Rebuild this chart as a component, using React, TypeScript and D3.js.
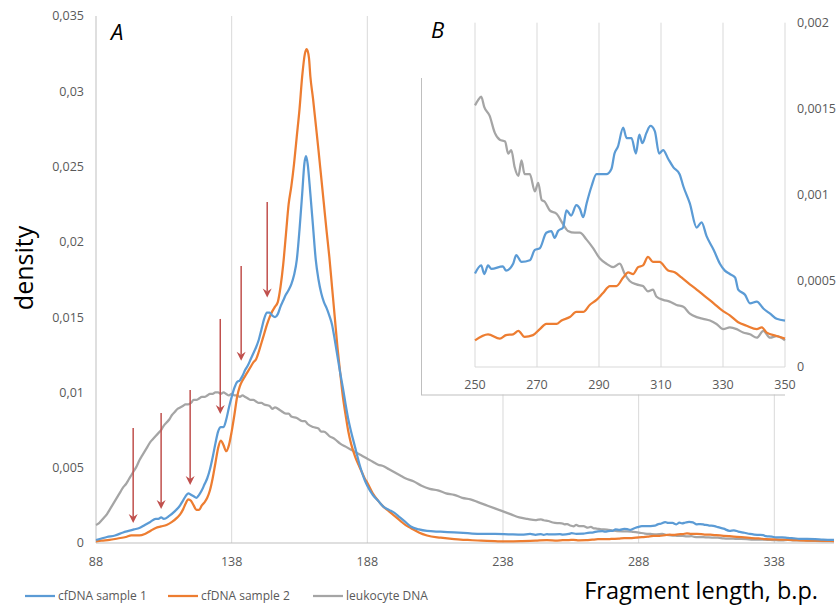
import React from "react";
import * as d3 from "d3";

type P = [number, number];

const blueMain: P[] = [
  [88,0.0002],[90,0.0003],[92,0.0004],[95,0.0005],[98,0.0007],[100,0.0008],[102,0.0009],[104,0.001],[106,0.0012],[108,0.0014],[110,0.0016],[111,0.0016],[112,0.0017],[113,0.0016],[115,0.0018],[117,0.0021],[119,0.0025],[120,0.0028],[121,0.0031],[122,0.0033],[123,0.0032],[124,0.0031],[125,0.003],[126,0.0032],[127,0.0035],[128,0.0039],[129,0.0043],[130,0.0049],[131,0.0057],[132,0.0066],[133,0.0074],[134,0.0077],[135,0.0077],[136,0.0082],[137,0.009],[138,0.0097],[139,0.0103],[140,0.0107],[141,0.0108],[142,0.0111],[143,0.0115],[144,0.0118],[145,0.0122],[146,0.0126],[147,0.013],[148,0.0135],[149,0.0142],[150,0.0149],[151,0.0153],[152,0.0153],[153,0.0151],[154,0.015],[155,0.0152],[156,0.0157],[157,0.0161],[158,0.0165],[159,0.0168],[160,0.0172],[161,0.0178],[162,0.0188],[163,0.0208],[164,0.0232],[164.8,0.0252],[165.4,0.0257],[166,0.0252],[167,0.0232],[168,0.021],[169,0.0188],[170,0.0175],[171,0.0166],[172,0.016],[173,0.0156],[174,0.0151],[175,0.0145],[176,0.0135],[177,0.0124],[178,0.0113],[179,0.0103],[180,0.0092],[181,0.0082],[182,0.0074],[183,0.0067],[184,0.006],[185,0.0053],[186,0.0047],[187,0.0042],[188,0.0038],[190,0.0032],[192,0.0028],[194,0.0024],[196,0.0022],[198,0.002],[200,0.0017],[202,0.0014],[204,0.0011],[207,0.0009],[210,0.0008],[215,0.00075],[220,0.0007],[225,0.00065],[230,0.0006],[235,0.0006],[240,0.00058],[245,0.00056],[248,0.0006]
];
const blueInset: P[] = [
  [250,0.000543],[252,0.00059],[253,0.00054],[254.2,0.00059],[255.3,0.00057],[259,0.000585],[260,0.00056],[262.3,0.0006],[263.3,0.00065],[265,0.00061],[267.7,0.00062],[269.3,0.00068],[270.9,0.00069],[273,0.00078],[274.6,0.00079],[275.7,0.00075],[276.8,0.00079],[278.4,0.00081],[279.5,0.00091],[281,0.00088],[282.7,0.00094],[283.8,0.00092],[284.9,0.00087],[286,0.00095],[287.6,0.00105],[289.2,0.00112],[292.4,0.00112],[294,0.00115],[295,0.00124],[296.1,0.00128],[297.8,0.00139],[298.9,0.00133],[300.5,0.00133],[301.9,0.00124],[303,0.00135],[304,0.0013],[305.3,0.00136],[306.6,0.0014],[308,0.00137],[309.4,0.00124],[310.7,0.00126],[312.3,0.00121],[314,0.00116],[316,0.00112],[317.2,0.00105],[319.3,0.00095],[321.5,0.00081],[323.1,0.00084],[324.7,0.00076],[327,0.00068],[329,0.0006],[330.6,0.00056],[332.2,0.00054],[333.9,0.00052],[334.9,0.00045],[337.1,0.00042],[338.7,0.00037],[340.9,0.00038],[343,0.00034],[345.2,0.00031],[347.3,0.00028],[350,0.00027]
];
const blueTail: P[] = [[353,0.00025],[356,0.00022],[360,0.0002]];

const orangeMain: P[] = [
  [88,0.0001],[90,0.00015],[93,0.0002],[96,0.0003],[99,0.0004],[101,0.0005],[104,0.0005],[106,0.0006],[108,0.0008],[110,0.001],[112,0.0011],[114,0.0012],[116,0.0014],[118,0.0017],[119,0.0019],[120,0.0022],[121,0.0026],[122,0.0029],[123,0.0028],[124,0.0025],[125,0.0022],[126,0.0022],[127,0.0025],[128,0.0027],[129,0.003],[130,0.0035],[131,0.0043],[132,0.0053],[133,0.0063],[134,0.0068],[135,0.0065],[136,0.0061],[137,0.0065],[138,0.0074],[139,0.0085],[140,0.0097],[141,0.0104],[142,0.0108],[143,0.0111],[144,0.0114],[145,0.0117],[146,0.012],[147,0.0122],[148,0.0127],[149,0.0133],[150,0.0139],[151,0.0145],[152,0.015],[153,0.0154],[154,0.0157],[155,0.016],[156,0.017],[157,0.0185],[158,0.0205],[159,0.0225],[160,0.0237],[161,0.0252],[162,0.027],[163,0.0288],[164,0.031],[165,0.0325],[165.7,0.0328],[166.5,0.0322],[167,0.031],[168,0.0295],[169,0.0278],[170,0.0261],[171,0.0243],[172,0.0225],[173,0.0207],[174,0.019],[175,0.017],[176,0.015],[177,0.013],[178,0.0113],[179,0.0097],[180,0.0085],[181,0.0074],[182,0.0066],[183,0.006],[184,0.0055],[185,0.0051],[186,0.0047],[187,0.0043],[188,0.004],[190,0.0033],[192,0.0028],[194,0.0024],[196,0.0021],[198,0.0018],[200,0.0015],[202,0.0012],[204,0.001],[207,0.0007],[210,0.0005],[215,0.00035],[220,0.00025],[225,0.0002],[230,0.00015],[235,0.00012],[240,0.0001],[245,0.00012],[248,0.00014]
];
const orangeInset: P[] = [
  [250,0.000155],[254.2,0.00019],[258,0.000165],[260,0.000185],[262.3,0.00019],[264,0.00021],[266,0.000175],[268.7,0.000185],[270.9,0.00022],[273,0.00025],[276.3,0.00025],[277.9,0.00027],[280.6,0.00029],[282.7,0.00032],[284.9,0.00032],[287,0.00036],[289.2,0.00039],[291.3,0.00043],[293.5,0.00047],[295.6,0.00047],[297.8,0.00052],[299.4,0.00055],[301,0.00054],[302.6,0.00058],[304.2,0.00059],[305.8,0.00064],[307.4,0.00061],[309.5,0.00061],[312.3,0.00056],[314.4,0.00055],[316.6,0.00052],[319.3,0.00048],[321.5,0.00045],[324.2,0.00041],[327,0.00037],[329.6,0.00033],[332.2,0.0003],[334.9,0.00026],[337.6,0.00024],[340.9,0.00022],[342.5,0.00023],[344.1,0.0002],[347.3,0.00018],[350,0.000165]
];
const orangeTail: P[] = [[353,0.00015],[356,0.00014],[360,0.00013]];

const grayMain: P[] = [
  [88,0.0012],[89,0.0013],[90,0.0015],[91,0.0017],[92,0.0019],[93,0.0022],[94,0.0025],[95,0.0028],[96,0.0031],[97,0.0034],[98,0.0037],[99,0.0039],[100,0.0042],[101,0.0045],[102,0.0048],[103,0.0051],[104,0.0055],[105,0.0058],[106,0.0061],[107,0.0064],[108,0.0067],[109,0.0069],[110,0.0071],[111,0.0073],[112,0.0075],[113,0.0078],[114,0.008],[115,0.0082],[116,0.0085],[117,0.0087],[118,0.0089],[119,0.009],[120,0.0091],[121,0.0092],[122,0.0092],[123,0.0093],[124,0.0095],[125,0.0095],[126,0.0096],[127,0.0097],[128,0.0097],[129,0.0098],[130,0.0099],[131,0.0099],[132,0.01],[133,0.01],[134,0.0099],[135,0.01],[136,0.0099],[137,0.0098],[138,0.0099],[139,0.0098],[140,0.0098],[141,0.0097],[142,0.0098],[143,0.0097],[144,0.0096],[145,0.0095],[146,0.0095],[147,0.0094],[148,0.0093],[149,0.0093],[150,0.0092],[152,0.0091],[153,0.0089],[154,0.009],[156,0.0088],[158,0.0086],[159,0.0086],[160,0.0084],[162,0.0083],[164,0.0081],[165,0.0081],[166,0.0079],[168,0.0077],[170,0.0076],[171,0.0074],[172,0.0074],[174,0.0071],[176,0.0069],[178,0.0066],[180,0.0064],[182,0.0062],[184,0.006],[186,0.0058],[188,0.0056],[190,0.0054],[192,0.0052],[194,0.0051],[196,0.0049],[198,0.0047],[200,0.0045],[202,0.0043],[205,0.0041],[208,0.0038],[211,0.0036],[214,0.0035],[217,0.0033],[220,0.0032],[223,0.003],[226,0.0029],[229,0.0027],[232,0.0025],[235,0.0023],[238,0.0021],[241,0.0019],[244,0.0017],[247,0.0016]
];
const grayInset: P[] = [
  [250,0.00152],[251,0.00155],[252,0.00157],[253,0.00151],[254.7,0.00146],[256.4,0.00136],[258,0.00132],[259.7,0.00131],[260.7,0.00124],[261.7,0.00126],[262.8,0.00116],[264,0.00111],[265,0.0012],[266,0.00112],[267.7,0.00112],[269.3,0.00102],[270.4,0.00107],[271.5,0.00097],[272.5,0.00096],[274.1,0.00091],[276.3,0.00089],[278.4,0.00083],[280,0.00079],[282.2,0.00078],[283.8,0.00078],[286,0.00074],[288.1,0.00069],[290.3,0.00063],[292.4,0.0006],[294.6,0.00058],[296.7,0.0006],[298.3,0.00054],[299.9,0.0005],[302.1,0.00048],[304.2,0.00047],[305.8,0.00044],[307.4,0.00045],[308.5,0.00041],[310.7,0.00039],[312.8,0.00038],[315,0.00036],[317.2,0.00035],[319.3,0.00031],[321.5,0.00029],[323.6,0.00028],[325.8,0.00027],[327.9,0.00025],[330.1,0.00022],[332.2,0.00023],[334.4,0.00022],[336.5,0.0002],[338.7,0.00019],[340.9,0.00017],[343,0.00021],[345.2,0.00017],[347.3,0.00018],[350,0.000155]
];
const grayTail: P[] = [[353,0.00014],[356,0.00013],[360,0.00012]];

const seriesNames = ["cfDNA sample 1", "cfDNA sample 2", "leukocyte DNA"];
const seriesColors = ["#5B9BD5", "#ED7D31", "#A5A5A5"];

const mainXTicks = [88, 138, 188, 238, 288, 338];
const mainYTicks = [0, 0.005, 0.01, 0.015, 0.02, 0.025, 0.03, 0.035];
const insetXTicks = [250, 270, 290, 310, 330, 350];
const insetYTicks = [0, 0.0005, 0.001, 0.0015, 0.002];

const arrowX = [101.7, 112, 122.7, 133.8, 141.5, 151.1];
const arrowTip = [0.00133, 0.00226, 0.00385, 0.00857, 0.0121, 0.0163];
const arrowTop = [0.00764, 0.00863, 0.01016, 0.01488, 0.0184, 0.02265];

const FONT = "'Open Sans', 'Liberation Sans', sans-serif";
const fmt = (v: number) => (v === 0 ? "0" : String(+v.toFixed(4)).replace(".", ","));

export default function App() {
  const series: P[][] = [
    [...blueMain, ...blueInset, ...blueTail],
    [...orangeMain, ...orangeInset, ...orangeTail],
    [...grayMain, ...grayInset, ...grayTail],
  ];
  const x = d3.scaleLinear().domain([88, 360]).range([96, 834]);
  const y = d3.scaleLinear().domain([0, 0.035]).range([543, 16]);
  const line = d3.line<P>().x(d => x(d[0])).y(d => y(d[1])).curve(d3.curveMonotoneX);

  const ix = d3.scaleLinear().domain([250, 350]).range([475, 785]);
  const iy = d3.scaleLinear().domain([0, 0.002]).range([367, 22.7]);
  const iline = d3.line<P>().x(d => ix(d[0])).y(d => iy(d[1])).curve(d3.curveMonotoneX);
  const insetSeries = series.map(s => s.filter(d => d[0] >= 250 && d[0] <= 350));
  const drawOrder = [2, 1, 0];

  return (
    <svg width={837} height={608} style={{ display: "block", position: "absolute", left: 0, top: 0, background: "#fff" }} fontFamily={FONT}>
      <rect x={0} y={0} width={837} height={608} fill="#fff" />
      {mainXTicks.slice(1).map(t => (
        <line key={t} x1={x(t)} x2={x(t)} y1={y(0.035)} y2={y(0)} stroke="#D9D9D9" strokeWidth={1} />
      ))}
      <line x1={x(88)} x2={x(88)} y1={y(0.035)} y2={y(0)} stroke="#BFBFBF" strokeWidth={1} />
      <line x1={x(88)} x2={x(360)} y1={y(0)} y2={y(0)} stroke="#BFBFBF" strokeWidth={1} />
      {mainYTicks.map(t => (
        <text key={t} x={84} y={y(t)} dy="0.35em" textAnchor="end" fontSize={12.5} fill="#595959">{fmt(t)}</text>
      ))}
      {mainXTicks.map(t => (
        <text key={t} x={x(t)} y={562} dy="0.35em" textAnchor="middle" fontSize={12.5} fill="#595959">{t}</text>
      ))}
      {drawOrder.map(i => (
        <path key={i} d={line(series[i]) || ""} fill="none" stroke={seriesColors[i]} strokeWidth={2.25} strokeLinejoin="round" />
      ))}
      {arrowX.map((a, i) => {
        const ax = x(a), ty = y(arrowTip[i]), top = y(arrowTop[i]);
        return (
          <g key={i}>
            <line x1={ax} x2={ax} y1={top} y2={ty - 6} stroke="#C0504D" strokeWidth={1.5} />
            <path d={`M${ax},${ty} L${ax - 4.5},${ty - 9} L${ax},${ty - 6} L${ax + 4.5},${ty - 9} Z`} fill="#C0504D" />
          </g>
        );
      })}
      <text x={111} y={40} fontSize={22} fontStyle="italic" fill="#000">A</text>
      <text transform="translate(33,268) rotate(-90)" textAnchor="middle" fontSize={25} fill="#000">density</text>
      <text x={818} y={599} textAnchor="end" fontSize={23.5} fill="#000">Fragment length, b.p.</text>

      {seriesNames.map((n, i) => {
        const lx = [25, 168, 313][i];
        return (
          <g key={n}>
            <line x1={lx} x2={lx + 30} y1={596} y2={596} stroke={seriesColors[i]} strokeWidth={2.25} />
            <text x={lx + 33} y={596} dy="0.35em" fontSize={12} fill="#595959">{n}</text>
          </g>
        );
      })}

      <rect x={422} y={0} width={415} height={394.5} fill="#fff" />
      <line x1={421.5} x2={421.5} y1={78} y2={395} stroke="#BFBFBF" strokeWidth={1} />
      <line x1={421} x2={785} y1={395} y2={395} stroke="#BFBFBF" strokeWidth={1} />
      {insetXTicks.map(t => (
        <line key={t} x1={ix(t)} x2={ix(t)} y1={iy(0.002)} y2={iy(0)} stroke="#D9D9D9" strokeWidth={1} />
      ))}
      <line x1={ix(250)} x2={ix(350)} y1={iy(0)} y2={iy(0)} stroke="#D9D9D9" strokeWidth={1} />
      {insetXTicks.map(t => (
        <text key={t} x={ix(t)} y={385} dy="0.35em" textAnchor="middle" fontSize={12.5} fill="#595959">{t}</text>
      ))}
      {insetYTicks.map(t => (
        <text key={t} x={797} y={iy(t)} dy="0.35em" textAnchor="start" fontSize={12.5} fill="#595959">{fmt(t)}</text>
      ))}
      {drawOrder.map(i => (
        <path key={i} d={iline(insetSeries[i]) || ""} fill="none" stroke={seriesColors[i]} strokeWidth={2.25} strokeLinejoin="round" />
      ))}
      <text x={431} y={38} fontSize={22} fontStyle="italic" fill="#000">B</text>
    </svg>
  );
}
